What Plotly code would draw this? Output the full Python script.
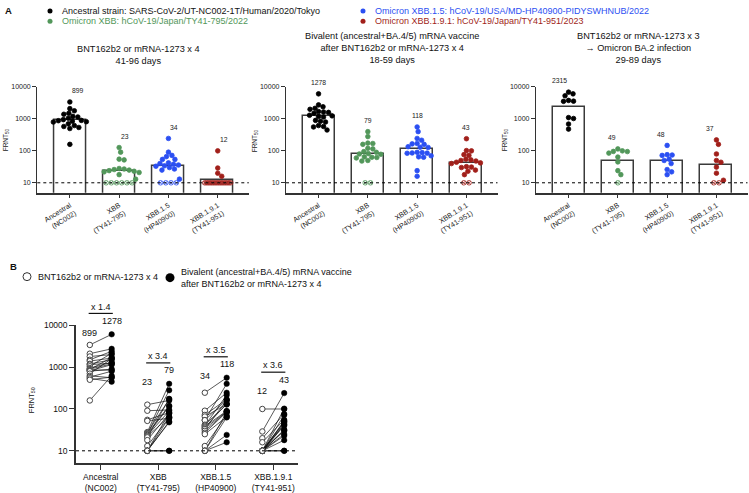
import numpy as np
import plotly.graph_objects as go

W, H = 749, 493
FONT = "Liberation Sans, Arial, sans-serif"

# ---------------- data ----------------
variants = ["Ancestral", "XBB", "XBB.1.5", "XBB.1.9.1"]
strain_ids = ["(NC002)", "(TY41-795)", "(HP40900)", "(TY41-951)"]
variant_colors = ["#000000", "#52975a", "#2b4ff2", "#a11f1a"]
legend_texts = [
    "Ancestral strain: SARS-CoV-2/UT-NC002-1T/Human/2020/Tokyo",
    "Omicron XBB: hCoV-19/Japan/TY41-795/2022",
    "Omicron XBB.1.5: hCoV-19/USA/MD-HP40900-PIDYSWHNUB/2022",
    "Omicron XBB.1.9.1: hCoV-19/Japan/TY41-951/2023",
]
panel_titles = [
    "BNT162b2 or mRNA-1273 x 4<br>41-96 days",
    "Bivalent (ancestral+BA.4/5) mRNA vaccine<br>after BNT162b2 or mRNA-1273 x 4<br>18-59 days",
    "BNT162b2 or mRNA-1273 x 3<br>→ Omicron BA.2 infection<br>29-89 days",
]
legend_b = ["BNT162b2 or mRNA-1273 x 4",
            "Bivalent (ancestral+BA.4/5) mRNA vaccine<br>after BNT162b2 or mRNA-1273 x 4"]

# 4-dose cohort (donor order matches bivalent arrays)
dose4_ancestral = [3400, 2100, 1800, 1500, 1400, 1200, 1150, 1050, 950, 900, 880, 850, 820, 800, 700, 620, 580, 540, 500, 160]
dose4_xbb = [127, 91, 55, 52, 28, 27, 26, 25, 24, 23, 22, 21, 18, 13, 10, 10, 10, 10, 10, 10]
dose4_xbb15 = [245, 91, 72, 66, 54, 54, 42, 40, 38, 36, 34, 33, 30, 27, 25, 13, 10, 10, 10, 10]
dose4_xbb191 = [100, 29, 20, 16, 10, 10, 10, 10, 10, 10, 10, 10, 10, 10, 10, 10, 10, 10, 10, 10]

# bivalent booster cohort (same donors)
biv_ancestral = [6100, 2750, 2000, 2400, 1650, 1500, 1250, 2150, 1300, 1200, 1700, 850, 1150, 900, 1600, 560, 800, 450, 580, 620]
biv_xbb = [160, 95, 82, 60, 400, 170, 120, 280, 115, 90, 65, 175, 78, 63, 80, 62, 50, 48, 10, 10]
biv_xbb15 = [560, 245, 170, 130, 400, 165, 128, 215, 90, 135, 88, 160, 86, 85, 65, 70, 84, 63, 24, 16]
biv_xbb191 = [100, 240, 76, 55, 102, 72, 52, 50, 48, 44, 42, 40, 32, 31, 30, 25, 23, 18, 10, 10]

# 3 doses + BA.2 breakthrough
ba2_ancestral = [6900, 6100, 5300, 3800, 3600, 3550, 1100, 1030, 690, 480]
ba2_xbb = [115, 100, 96, 95, 85, 64, 45, 24, 18, 10]
ba2_xbb15 = [148, 76, 74, 72, 55, 50, 40, 26, 22, 18]
ba2_xbb191 = [220, 160, 80, 50, 44, 31, 20, 12, 10, 10]

gmt_dose4 = [899, 23, 34, 12]
gmt_biv = [1278, 79, 118, 43]
gmt_ba2 = [2315, 49, 48, 37]
fold_change = [1.4, 3.4, 3.5, 3.6]

y_tickvals = [10, 100, 1000, 10000]
LOD = 10

dose4 = [dose4_ancestral, dose4_xbb, dose4_xbb15, dose4_xbb191]
biv = [biv_ancestral, biv_xbb, biv_xbb15, biv_xbb191]
ba2 = [ba2_ancestral, ba2_xbb, ba2_xbb15, ba2_xbb191]

# ---------------- layout geometry ----------------
def px(x):
    return x / W

def py(y):
    return 1 - y / H

A_XR = [-0.66, 3.63]
A_YR = [0.69, 4.0]
A_YD = [py(190), py(83)]
A_XD = [[px(37.3), px(248.8)], [px(286), px(497.5)], [px(536), px(747.5)]]
B_XR = [-0.43, 3.43]
B_YR = [0.70, 4.0]
B_XD = [px(76), px(298)]
B_YD = [py(464), py(324.3)]

A_PPD = (190 - 83) / (A_YR[1] - A_YR[0])      # px per decade
A_PPC = (248.8 - 37.3) / (A_XR[1] - A_XR[0])  # px per category
MS_A = 4.6


def to_paper(v, rng, dom):
    return dom[0] + (v - rng[0]) / (rng[1] - rng[0]) * (dom[1] - dom[0])


def swarm(vals, ppd, ppc, d=4.8, wmax=26.0):
    n = len(vals)
    off = [0.0] * n
    placed = []
    lod_idx = [i for i, v in enumerate(vals) if v <= LOD]
    m = len(lod_idx)
    if m:
        step = d * 1.4 if m == 1 else min(d * 1.1, wmax / (m - 1))
        for k, i in enumerate(lod_idx):
            x = (k - (m - 1) / 2) * step
            off[i] = x / ppc
            placed.append((x, np.log10(vals[i]) * ppd))
    others = sorted([i for i in range(n) if vals[i] > LOD], key=lambda i: -vals[i])
    cands = [0.0]
    for k in range(1, 80):
        cands += [k * 0.5, -k * 0.5]
    for i in others:
        y = np.log10(vals[i]) * ppd
        best = 0.0
        for x in cands:
            if all((x - a) ** 2 + (y - b) ** 2 >= d * d for a, b in placed):
                best = x
                break
        off[i] = best / ppc
        placed.append((best, y))
    return off


fig = go.Figure()
shapes = []
annotations = []
AXIS_COL = "#333333"
TXT = "#1a1a1a"

panelsA = [(dose4, gmt_dose4), (biv, gmt_biv), (ba2, gmt_ba2)]
a_ticktext = [f"{v}<br>{s}" for v, s in zip(variants, strain_ids)]

for p, (groups, gmts) in enumerate(panelsA):
    n = p + 1
    xn = "x" if n == 1 else f"x{n}"
    yn = "y" if n == 1 else f"y{n}"
    fig.add_trace(go.Bar(x=[0, 1, 2, 3], y=gmts, width=0.65, xaxis=xn, yaxis=yn,
                         marker=dict(color="white", line=dict(color="#3a3a3a", width=1.5)),
                         showlegend=False, hoverinfo="skip"))
    for k, vals in enumerate(groups):
        offs = swarm(vals, A_PPD, A_PPC)
        syms = ["circle-x-open" if v <= LOD else "circle" for v in vals]
        fig.add_trace(go.Scatter(x=[k + o for o in offs], y=vals, mode="markers",
                                 xaxis=xn, yaxis=yn, cliponaxis=False, showlegend=False,
                                 marker=dict(size=MS_A, color=variant_colors[k], symbol=syms,
                                             line=dict(color=variant_colors[k], width=0.8))))
        annotations.append(dict(x=to_paper(k, A_XR, A_XD[p]),
                                y=to_paper(np.log10(max(vals)) + 0.35, A_YR, A_YD),
                                xref="paper", yref="paper", yanchor="middle",
                                text=str(gmts[k]), showarrow=False,
                                font=dict(size=6.8, color=TXT, family=FONT)))
    shapes.append(dict(type="line", xref=f"{xn} domain", yref=yn, x0=0, x1=1, y0=LOD, y1=LOD,
                       line=dict(color="black", width=1, dash="dot")))
    fig.layout[f"xaxis{'' if n == 1 else n}"] = dict(
        domain=A_XD[p], range=A_XR, anchor=yn, showline=True, linecolor=AXIS_COL, linewidth=1.6,
        ticks="outside", ticklen=4, tickwidth=1.2, tickcolor=AXIS_COL, tickvals=[0, 1, 2, 3],
        ticktext=a_ticktext, tickangle=-32, showgrid=False, zeroline=False,
        tickfont=dict(size=7.2, family=FONT, color=TXT))
    fig.layout[f"yaxis{'' if n == 1 else n}"] = dict(
        domain=A_YD, range=A_YR, type="log", anchor=xn, showline=True, linecolor=AXIS_COL,
        linewidth=1.3, ticks="outside", ticklen=4, tickwidth=1.2, tickcolor=AXIS_COL,
        tickvals=y_tickvals, ticktext=[str(v) for v in y_tickvals], showgrid=False,
        zeroline=False, tickfont=dict(size=7, family=FONT, color=TXT))

# y titles panel A
for xpos in [6, 255, 505]:
    annotations.append(dict(x=px(xpos), y=py(137), xref="paper", yref="paper",
                            text="FRNT<sub>50</sub>", textangle=-90, showarrow=False,
                            xanchor="center", yanchor="middle",
                            font=dict(size=6.5, family=FONT, color=TXT)))

# titles panel A
title_pos = [(138, 50.5), (392, 43.5), (638, 43.5)]
for (tx, ty), t in zip(title_pos, panel_titles):
    annotations.append(dict(x=px(tx), y=py(ty), xref="paper", yref="paper", text=t,
                            showarrow=False, align="center", xanchor="center", yanchor="middle",
                            font=dict(size=9.2, family=FONT, color="#111")))

# Legend A
annotations.append(dict(x=px(3), y=py(6), xref="paper", yref="paper", text="<b>A</b>",
                        showarrow=False, xanchor="left", yanchor="middle",
                        font=dict(size=9.5, family=FONT, color="#111")))
leg_pos = [(50, 6), (50, 16.5), (363, 6), (363, 16.5)]
for (lx, ly), t, c in zip(leg_pos, legend_texts, variant_colors):
    shapes.append(dict(type="circle", xref="paper", yref="paper", xsizemode="pixel", ysizemode="pixel",
                       xanchor=px(lx), yanchor=py(ly), x0=-2.5, x1=2.5, y0=-2.5, y1=2.5,
                       fillcolor=c, line=dict(color=c, width=0)))
    annotations.append(dict(x=px(lx + 10), y=py(ly), xref="paper", yref="paper", text=t,
                            showarrow=False, xanchor="left", yanchor="middle",
                            font=dict(size=9, family=FONT, color=c if c != "#000000" else "#111")))

# ---------------- Panel B ----------------
D = 0.19
for k in range(4):
    a, b = dose4[k], biv[k]
    lx, ly = [], []
    for u, v in zip(a, b):
        lx += [k - D, k + D, None]
        ly += [u, v, None]
    fig.add_trace(go.Scatter(x=lx, y=ly, mode="lines", xaxis="x4", yaxis="y4",
                             line=dict(color="#111", width=0.7), showlegend=False, hoverinfo="skip"))
    fig.add_trace(go.Scatter(x=[k - D] * len(a), y=a, mode="markers", xaxis="x4", yaxis="y4",
                             cliponaxis=False, showlegend=False,
                             marker=dict(size=5.5, color="white", line=dict(color="#444", width=1))))
    fig.add_trace(go.Scatter(x=[k + D] * len(b), y=b, mode="markers", xaxis="x4", yaxis="y4",
                             cliponaxis=False, showlegend=False,
                             marker=dict(size=5.5, color="black", line=dict(color="black", width=0.5))))
    M = np.log10(max(max(a), max(b)))
    for xc, L, t in [(k - D, M + 0.04, str(gmt_dose4[k])),
                     (k + D, M + 0.32, str(gmt_biv[k])),
                     (k, M + 0.66, f"x {fold_change[k]}")]:
        annotations.append(dict(x=to_paper(xc, B_XR, B_XD), y=to_paper(L, B_YR, B_YD),
                                xref="paper", yref="paper", xanchor="center", yanchor="middle",
                                text=t, showarrow=False,
                                font=dict(size=9, family=FONT, color="#111")))
    yl = to_paper(M + 0.50, B_YR, B_YD)
    shapes.append(dict(type="line", xref="paper", yref="paper",
                       x0=to_paper(k - D - 0.02, B_XR, B_XD), x1=to_paper(k + D + 0.02, B_XR, B_XD),
                       y0=yl, y1=yl, line=dict(color="#111", width=1.2)))

shapes.append(dict(type="line", xref="x4 domain", yref="y4", x0=0, x1=1, y0=LOD, y1=LOD,
                   line=dict(color="black", width=1, dash="dot")))

fig.layout["xaxis4"] = dict(
    domain=B_XD, range=B_XR, anchor="y4", showline=True, linecolor=AXIS_COL, linewidth=1.6,
    ticks="outside", ticklen=5, tickwidth=1.3, tickcolor=AXIS_COL, tickvals=[0, 1, 2, 3],
    ticktext=a_ticktext, tickangle=0, showgrid=False, zeroline=False,
    tickfont=dict(size=8.5, family=FONT, color="#111"))
fig.layout["yaxis4"] = dict(
    domain=B_YD, range=B_YR, type="log", anchor="x4", showline=True, linecolor=AXIS_COL,
    linewidth=1.5, ticks="outside", ticklen=5, tickwidth=1.3, tickcolor=AXIS_COL,
    tickvals=y_tickvals, ticktext=[str(v) for v in y_tickvals], showgrid=False, zeroline=False,
    tickfont=dict(size=8.5, family=FONT, color="#111"))

annotations.append(dict(x=px(32), y=py(400), xref="paper", yref="paper", text="FRNT<sub>50</sub>",
                        textangle=-90, showarrow=False, xanchor="center", yanchor="middle",
                        font=dict(size=7.5, family=FONT, color="#111")))

# Legend B
annotations.append(dict(x=px(8), y=py(265), xref="paper", yref="paper", text="<b>B</b>",
                        showarrow=False, xanchor="left", yanchor="middle",
                        font=dict(size=9.5, family=FONT, color="#111")))
shapes.append(dict(type="circle", xref="paper", yref="paper", xsizemode="pixel", ysizemode="pixel",
                   xanchor=px(27), yanchor=py(275), x0=-4, x1=4, y0=-4, y1=4,
                   fillcolor="white", line=dict(color="#333", width=1)))
shapes.append(dict(type="circle", xref="paper", yref="paper", xsizemode="pixel", ysizemode="pixel",
                   xanchor=px(170), yanchor=py(276), x0=-4.5, x1=4.5, y0=-4.5, y1=4.5,
                   fillcolor="black", line=dict(color="black", width=0)))
annotations.append(dict(x=px(36), y=py(275), xref="paper", yref="paper", text=legend_b[0],
                        showarrow=False, xanchor="left", yanchor="middle",
                        font=dict(size=9, family=FONT, color="#111")))
annotations.append(dict(x=px(179), y=py(276), xref="paper", yref="paper", text=legend_b[1],
                        showarrow=False, xanchor="left", yanchor="middle", align="left",
                        font=dict(size=9, family=FONT, color="#111")))

fig.update_layout(width=W, height=H, margin=dict(l=0, r=0, t=0, b=0),
                  paper_bgcolor="white", plot_bgcolor="white", showlegend=False,
                  shapes=shapes, annotations=annotations, bargap=0,
                  font=dict(family=FONT, color="#111"))

fig.write_html("out.html", config={"displayModeBar": False},
               post_script="document.body.style.margin='0px';document.body.style.overflow='hidden';")
